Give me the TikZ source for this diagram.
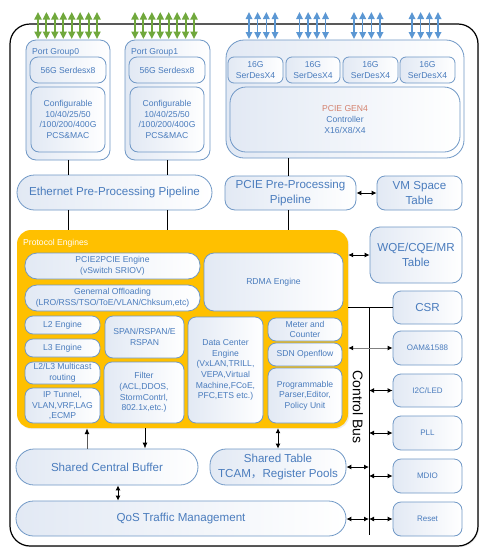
\documentclass[tikz,border=0pt]{standalone}
\usepackage{fontspec}
\setmainfont{Liberation Sans}
\newfontfamily\cjkfont{Noto Sans CJK SC}
\usetikzlibrary{arrows.meta,shadows}
\definecolor{bdr}{HTML}{7098C6}
\definecolor{fillL}{HTML}{E2E9F4}
\definecolor{txt}{HTML}{4A7CBD}
\definecolor{orng}{HTML}{FFC000}
\definecolor{grn}{HTML}{70A83C}
\definecolor{blu}{HTML}{5B97D3}
\definecolor{pinkt}{HTML}{D4826E}
\newcommand\fsS{\fontsize{8.6}{10.7}\selectfont}
\newcommand\fsT{\fontsize{8}{10}\selectfont}
\newcommand\fsL{\fontsize{11.6}{14.5}\selectfont}
\begin{document}
\begin{tikzpicture}[x=1pt,y=-1pt,
  box/.style={draw=bdr, line width=0.8pt, rounded corners=#1, left color=fillL, right color=white,
    text=txt, align=center, inner sep=0pt, font=\fsS},
  box/.default=8pt,
  lbl/.style={text=txt, font=\fsS, anchor=west, inner sep=0pt},
  ga/.style={draw=grn, line width=2pt, {Triangle[length=7.5pt,width=7pt,fill=grn]}-{Triangle[length=7.5pt,width=7pt,fill=grn]}},
  ba/.style={draw=blu, line width=1.6pt, {Triangle[length=7pt,width=6.5pt,fill=blu]}-{Triangle[length=7pt,width=6.5pt,fill=blu]}},
  dbl/.style={line width=0.9pt, {Latex[length=5pt,width=5pt]}-{Latex[length=5pt,width=5pt]}},
  dblg/.style={draw=gray, line width=1pt, {Latex[length=5pt,width=5pt,black]}-{Latex[length=5pt,width=5pt,black]}},
  upar/.style={draw=gray!70!black, line width=1pt, -{Latex[length=6pt,width=5pt,black]}},
  dnar/.style={line width=1pt, -{Latex[length=6pt,width=5pt]}},
  link/.style={line width=0.9pt}
]
\useasboundingbox (0,0) rectangle (484,560);
% outer frame
\node[draw=black, line width=1.2pt, fill=white, rounded corners=20pt, minimum width=468pt, minimum height=522pt,
  drop shadow={opacity=0.15, shadow xshift=1.2pt, shadow yshift=-1.2pt}] (frame) at (244,285) {};

% port groups
\node[box=10pt, minimum width=84pt, minimum height=120pt] (pg0) at (68,100) {};
\node[lbl] (pg0l) at (32,52) {Port Group0};
\node[box=8pt, minimum width=76pt, minimum height=26pt] (pg0s) at (68,70) {56G Serdesx8};
\node[box=8pt, minimum width=74pt, minimum height=65pt] (pg0c) at (68,119.5) {Configurable\\10/40/25/50\\/100/200/400G\\PCS\&MAC};
\node[box=10pt, minimum width=85pt, minimum height=120pt] (pg1) at (167.5,100) {};
\node[lbl] (pg1l) at (131,52) {Port Group1};
\node[box=8pt, minimum width=76pt, minimum height=26pt] (pg1s) at (167,70) {56G Serdesx8};
\node[box=8pt, minimum width=74pt, minimum height=65pt] (pg1c) at (167,119.5) {Configurable\\10/40/25/50\\/100/200/400G\\PCS\&MAC};

% green arrows
\foreach \i in {0,...,7} {
  \draw[ga] ({38+\i*8.43},12) -- ({38+\i*8.43},39);
  \draw[ga] ({135+\i*8.43},12) -- ({135+\i*8.43},39);
}

% PCIe block
\node[box=18pt, minimum width=238pt, minimum height=118pt] (pcie) at (345,99) {};
\node[box=6pt, minimum width=55pt, minimum height=26pt] (sd1) at (255.5,70) {16G\\SerDesX4};
\node[box=6pt, minimum width=54pt, minimum height=26pt] (sd2) at (313,70) {16G\\SerDesX4};
\node[box=6pt, minimum width=55pt, minimum height=26pt] (sd3) at (370.5,70) {16G\\SerDesX4};
\node[box=6pt, minimum width=55pt, minimum height=26pt] (sd4) at (427.5,70) {16G\\SerDesX4};
\node[box=16pt, minimum width=230pt, minimum height=65pt] (ctrl) at (345,119.5) {{\color{pinkt}PCIE GEN4}\\Controller\\X16/X8/X4};

% blue arrows
\foreach \g in {249,299.5,354,412} {
  \foreach \i in {0,...,3} {
    \draw[ba] ({\g+\i*8.67},12) -- ({\g+\i*8.67},39);
  }
}

% pipelines
\node[box=17.5pt, minimum width=195pt, minimum height=35pt, font=\fsL] (eth) at (114.5,192.5) {Ethernet Pre-Processing Pipeline};
\node[box=10pt, minimum width=131pt, minimum height=34pt, font=\fsL] (pcpp) at (290.5,193) {PCIE Pre-Processing\\Pipeline};
\node[box=8pt, minimum width=85pt, minimum height=34pt, font=\fsL] (vm) at (419.5,193) {VM Space\\Table};

% protocol engines
\node[fill=orng, rounded corners=14pt, minimum width=331pt, minimum height=198pt,
  drop shadow={opacity=0.15, shadow xshift=1.2pt, shadow yshift=-1.2pt}] (pe) at (182.5,329) {};
\node[anchor=west, text=white, font=\fsS, inner sep=0pt] (pel) at (23,243) {Protocol Engines};
\node[box=12pt, minimum width=175pt, minimum height=26pt] (p2p) at (112.5,266) {PCIE2PCIE Engine\\(vSwitch SRIOV)};
\node[box=12pt, minimum width=175pt, minimum height=26pt] (goff) at (112.5,298) {Genernal Offloading\\(LRO/RSS/TSO/ToE/VLAN/Chksum,etc)};
\node[box=10pt, minimum width=139pt, minimum height=58pt] (rdma) at (273.5,282) {RDMA Engine};
\node[box=8pt, minimum width=75pt, minimum height=18pt] (l2) at (62.5,325) {L2 Engine};
\node[box=8pt, minimum width=75pt, minimum height=18pt] (l3) at (62.5,348) {L3 Engine};
\node[box=8pt, minimum width=75pt, minimum height=22pt] (mc) at (62.5,373) {L2/L3 Multicast\\routing};
\node[box=8pt, minimum width=75pt, minimum height=35pt] (ipt) at (62.5,405.5) {IP Tunnel,\\VLAN,VRF,LAG\\,ECMP};
\node[box=8pt, minimum width=79pt, minimum height=42pt] (span) at (144.5,337) {SPAN/RSPAN/E\\RSPAN};
\node[box=8pt, minimum width=80pt, minimum height=61pt] (filt) at (144,392.5) {Filter\\(ACL,DDOS,\\StormContrl,\\802.1x,etc.)};
\node[box=8pt, minimum width=75pt, minimum height=106pt] (dc) at (225.5,370) {Data Center\\Engine\\(VxLAN,TRILL,\\VEPA,Virtual\\Machine,FCoE,\\PFC,ETS etc.)};
\node[box=8pt, minimum width=74pt, minimum height=23pt] (met) at (305,329.5) {Meter and\\Counter};
\node[box=8pt, minimum width=74pt, minimum height=23pt] (sdn) at (305,354.5) {SDN Openflow};
\node[box=8pt, minimum width=74pt, minimum height=55pt] (prog) at (305,395.5) {Programmable\\Parser,Editor,\\Policy Unit};

% right column
\node[box=10pt, minimum width=92pt, minimum height=56pt, font=\fsL] (wqe) at (416,255) {WQE/CQE/MR\\Table};
\node[box=8pt, minimum width=69pt, minimum height=33pt, font=\fsL] (csr) at (427.5,307.5) {CSR};
\node[box=8pt, minimum width=69pt, minimum height=34pt, font=\fsT] (oam) at (427.5,348) {OAM\&1588};
\node[box=8pt, minimum width=69pt, minimum height=33pt, font=\fsT] (i2c) at (427.5,390.5) {I2C/LED};
\node[box=8pt, minimum width=69pt, minimum height=34pt, font=\fsT] (pll) at (427.5,433) {PLL};
\node[box=8pt, minimum width=69pt, minimum height=34pt, font=\fsT] (mdio) at (427.5,476) {MDIO};
\node[box=8pt, minimum width=69pt, minimum height=34pt, font=\fsT] (rst) at (427.5,519) {Reset};

% bottom
\node[box=18pt, minimum width=182pt, minimum height=36pt, font=\fsL] (scb) at (107,467) {Shared Central Buffer};
\node[box=16pt, minimum width=136pt, minimum height=36pt, font=\fsL] (st) at (278,467) {Shared Table\\TCAM{\cjkfont ，}Register Pools};
\node[box=17.5pt, minimum width=330pt, minimum height=35pt, font=\fsL] (qos) at (181,518.5) {QoS Traffic Management};

% control bus
\coordinate (bt) at (369,307);
\coordinate (bb) at (369,535);
\draw[line width=1pt] (bt) -- (bb);
\draw[line width=1pt] (pe.east |- csr.west) -- (csr.west);
\node[rotate=-90, font=\fontsize{14}{14}\selectfont, inner sep=0pt] (cbus) at (358,407) {Control Bus};

% vertical links
\coordinate (x0) at (68,0);
\coordinate (x1) at (167,0);
\coordinate (x2) at (288,0);
\draw[link] (pg0.south -| x0) -- (eth.north -| x0);
\draw[link] (pg1.south -| x1) -- (eth.north -| x1);
\draw[link] (eth.south -| x0) -- (pe.north -| x0);
\draw[link] (eth.south -| x1) -- (pe.north -| x1);
\draw[link] (pcie.south -| x2) -- (pcpp.north -| x2);
\draw[link] (pcpp.south -| x2) -- (pe.north -| x2);

% arrows
\draw[dbl] (pcpp.east) -- (vm.west);
\draw[dbl] (pe.east |- wqe.west) -- (wqe.west);
\draw[dblg] (pe.east |- oam.west) -- (oam.west);
\draw[dbl] (bb |- i2c.west) -- (i2c.west);
\draw[dbl] (bb |- pll.west) -- (pll.west);
\draw[dbl] (bb |- mdio.west) -- (mdio.west);
\draw[dbl] (bb |- rst.west) -- (rst.west);
\draw[dbl] (st.east) -- (bb |- st.east);
\draw[dbl] (qos.east |- rst.west) -- (bb |- rst.west);

\coordinate (x3) at (87,0);
\coordinate (x4) at (145,0);
\coordinate (x5) at (118,0);
\coordinate (x6) at (278,0);
\draw[upar] (scb.north -| x3) -- (pe.south -| x3);
\draw[dnar] (pe.south -| x4) -- (scb.north -| x4);
\draw[dbl] (scb.south -| x5) -- (qos.north -| x5);
\draw[dbl] (pe.south -| x6) -- (st.north -| x6);
\end{tikzpicture}
\end{document}
